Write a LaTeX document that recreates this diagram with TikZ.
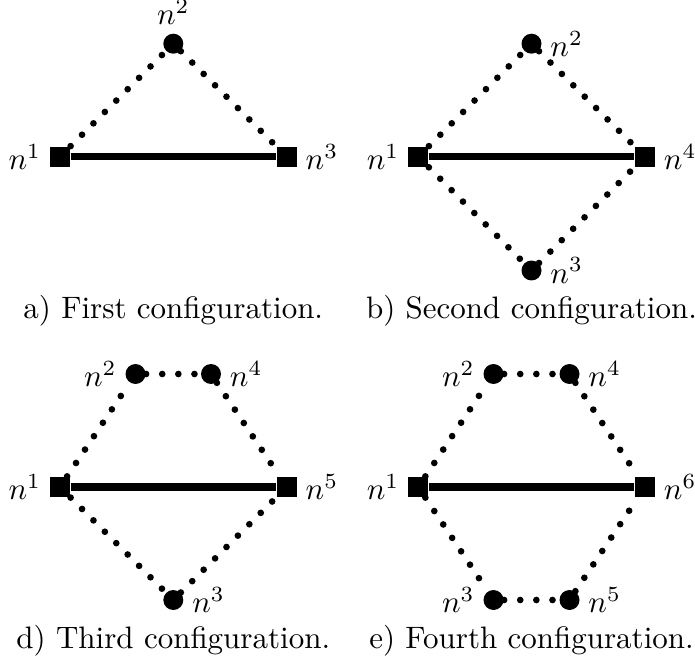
\documentclass[tikz,border=0pt]{standalone}
\begin{document}
\begin{tikzpicture}[x=0.3226pt, y=-0.3226pt,
  sq/.style={rectangle, fill=black, inner sep=0pt, minimum size=6.45pt},
  vtx/.style={circle, fill=black, inner sep=0pt, minimum size=6.45pt},
  rigid/.style={line width=2.4pt},
  soft/.style={line width=2.15pt, line cap=round, dash pattern=on 0pt off 5.2pt},
  every label/.style={inner sep=2.5pt},
  label distance=0pt,
  captext/.style={anchor=base, inner sep=0pt}]
\useasboundingbox (0,0) rectangle (695,667);
% a) first configuration
\node[sq, label=left:$n^1$] (a1) at (60,156.7) {};
\node[sq, label=right:$n^3$] (a3) at (286.7,156.7) {};
\node[vtx, label=above:$n^2$] (a2) at (173.3,43.7) {};
\draw[rigid] (a1) -- (a3);
\draw[soft] (a1) -- (a2);
\draw[soft] (a2) -- (a3);
\node[captext] (capa) at (173.3,318) {a) First configuration.};
% b) second configuration
\node[sq, label=left:$n^1$] (b1) at (418.3,156.7) {};
\node[sq, label=right:$n^4$] (b4) at (645,156.7) {};
\node[vtx, label=right:$n^2$] (b2) at (531.5,43.7) {};
\node[vtx, label=right:$n^3$] (b3) at (531.5,270.5) {};
\draw[rigid] (b1) -- (b4);
\draw[soft] (b1) -- (b2);
\draw[soft] (b2) -- (b4);
\draw[soft] (b1) -- (b3);
\draw[soft] (b3) -- (b4);
\node[captext] (capb) at (531.5,318) {b) Second configuration.};
% d) third configuration
\node[sq, label=left:$n^1$] (d1) at (60,487) {};
\node[sq, label=right:$n^5$] (d5) at (286.7,487) {};
\node[vtx, label=left:$n^2$] (d2) at (135.5,374) {};
\node[vtx, label=right:$n^4$] (d4) at (211,374) {};
\node[vtx, label=right:$n^3$] (d3) at (173.3,600) {};
\draw[rigid] (d1) -- (d5);
\draw[soft] (d1) -- (d2);
\draw[soft] (d2) -- (d4);
\draw[soft] (d4) -- (d5);
\draw[soft] (d1) -- (d3);
\draw[soft] (d3) -- (d5);
\node[captext] (capd) at (173.3,648) {d) Third configuration.};
% e) fourth configuration
\node[sq, label=left:$n^1$] (e1) at (418.3,487) {};
\node[sq, label=right:$n^6$] (e6) at (645,487) {};
\node[vtx, label=left:$n^2$] (e2) at (493.5,374) {};
\node[vtx, label=right:$n^4$] (e4) at (569.5,374) {};
\node[vtx, label=left:$n^3$] (e3) at (493.5,600) {};
\node[vtx, label=right:$n^5$] (e5) at (569.5,600) {};
\draw[rigid] (e1) -- (e6);
\draw[soft] (e1) -- (e2);
\draw[soft] (e2) -- (e4);
\draw[soft] (e4) -- (e6);
\draw[soft] (e1) -- (e3);
\draw[soft] (e3) -- (e5);
\draw[soft] (e5) -- (e6);
\node[captext] (cape) at (531.5,648) {e) Fourth configuration.};
\end{tikzpicture}
\end{document}
